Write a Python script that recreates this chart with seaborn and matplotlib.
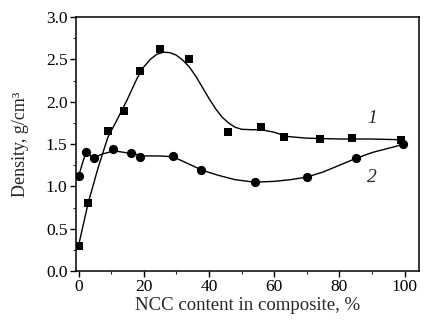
import numpy as np
import pandas as pd
import matplotlib
matplotlib.use("Agg")
import matplotlib.pyplot as plt
import seaborn as sns
from matplotlib.ticker import MultipleLocator

# measured points, series 1 (squares) and series 2 (circles)
x_sq = [0, 3, 9, 14, 19, 25, 34, 46, 56, 63, 74, 84, 99]
y_sq = [0.30, 0.81, 1.65, 1.89, 2.36, 2.62, 2.51, 1.64, 1.70, 1.58, 1.56, 1.57, 1.55]

x_ci = [0, 2.3, 4.6, 10.7, 16, 19, 29, 37.6, 54, 70, 85, 99.5]
y_ci = [1.12, 1.41, 1.33, 1.44, 1.39, 1.35, 1.36, 1.19, 1.05, 1.11, 1.34, 1.50]

# fitted curves
fit1_x = [0, 3, 6, 9, 12, 15, 18, 20, 22, 24, 26, 28, 30, 32, 34, 36, 38, 40,
          42, 44, 46, 48, 50, 53, 56, 60, 64, 70, 80, 90, 100]
fit1_y = [0.30, 0.81, 1.22, 1.58, 1.80, 2.03, 2.28, 2.41, 2.50, 2.56, 2.585, 2.58,
          2.55, 2.49, 2.41, 2.30, 2.17, 2.04, 1.92, 1.82, 1.75, 1.70, 1.675, 1.67,
          1.67, 1.64, 1.59, 1.57, 1.56, 1.56, 1.55]

fit2_x = [0, 2.3, 4.6, 7, 11, 16, 20, 25, 29, 33, 38, 43, 48, 54, 60, 65, 70,
          75, 80, 85, 90, 95, 100]
fit2_y = [1.12, 1.41, 1.33, 1.38, 1.42, 1.39, 1.36, 1.36, 1.35, 1.28, 1.19, 1.13,
          1.08, 1.05, 1.06, 1.08, 1.11, 1.17, 1.25, 1.33, 1.40, 1.45, 1.50]

sns.set_style("ticks")
plt.rcParams['font.family'] = ['Liberation Serif', 'DejaVu Serif']

fig = plt.figure(figsize=(4.24, 3.22), dpi=100)
ax = fig.add_axes([0.179, 0.158, 0.809, 0.789])

sns.lineplot(x=fit1_x, y=fit1_y, ax=ax, color='black', linewidth=1.0, sort=False)
sns.lineplot(x=fit2_x, y=fit2_y, ax=ax, color='black', linewidth=1.0, sort=False)
sns.scatterplot(x=x_sq, y=y_sq, ax=ax, marker='s', color='black', s=38,
                edgecolor='black', linewidth=0, zorder=3)
sns.scatterplot(x=x_ci, y=y_ci, ax=ax, marker='o', color='black', s=44,
                edgecolor='black', linewidth=0, zorder=3)

ax.text(90, 1.80, '1', fontsize=14, style='italic', ha='center', va='center')
ax.text(90, 1.11, '2', fontsize=14, style='italic', ha='center', va='center')

ax.set_xlim(-0.8, 104.4)
ax.set_ylim(0, 3.0)
ax.xaxis.set_major_locator(MultipleLocator(20))
ax.xaxis.set_minor_locator(MultipleLocator(10))
ax.yaxis.set_major_locator(MultipleLocator(0.5))
ax.yaxis.set_minor_locator(MultipleLocator(0.25))
ax.yaxis.set_major_formatter(matplotlib.ticker.FormatStrFormatter('%.1f'))
ax.tick_params(which='major', direction='out', length=4, width=1, labelsize=12.5,
               pad=2, colors='black')
ax.tick_params(which='minor', direction='out', length=2.5, width=0.8)

for sp in ax.spines.values():
    sp.set_visible(True)
    sp.set_linewidth(1.1)
    sp.set_color('black')

ax.set_xlabel('NCC content in composite, %', fontsize=13.5, labelpad=1)
ax.set_ylabel('Density, g/cm³', fontsize=13, labelpad=12)

fig.savefig('out.png', dpi=100)
